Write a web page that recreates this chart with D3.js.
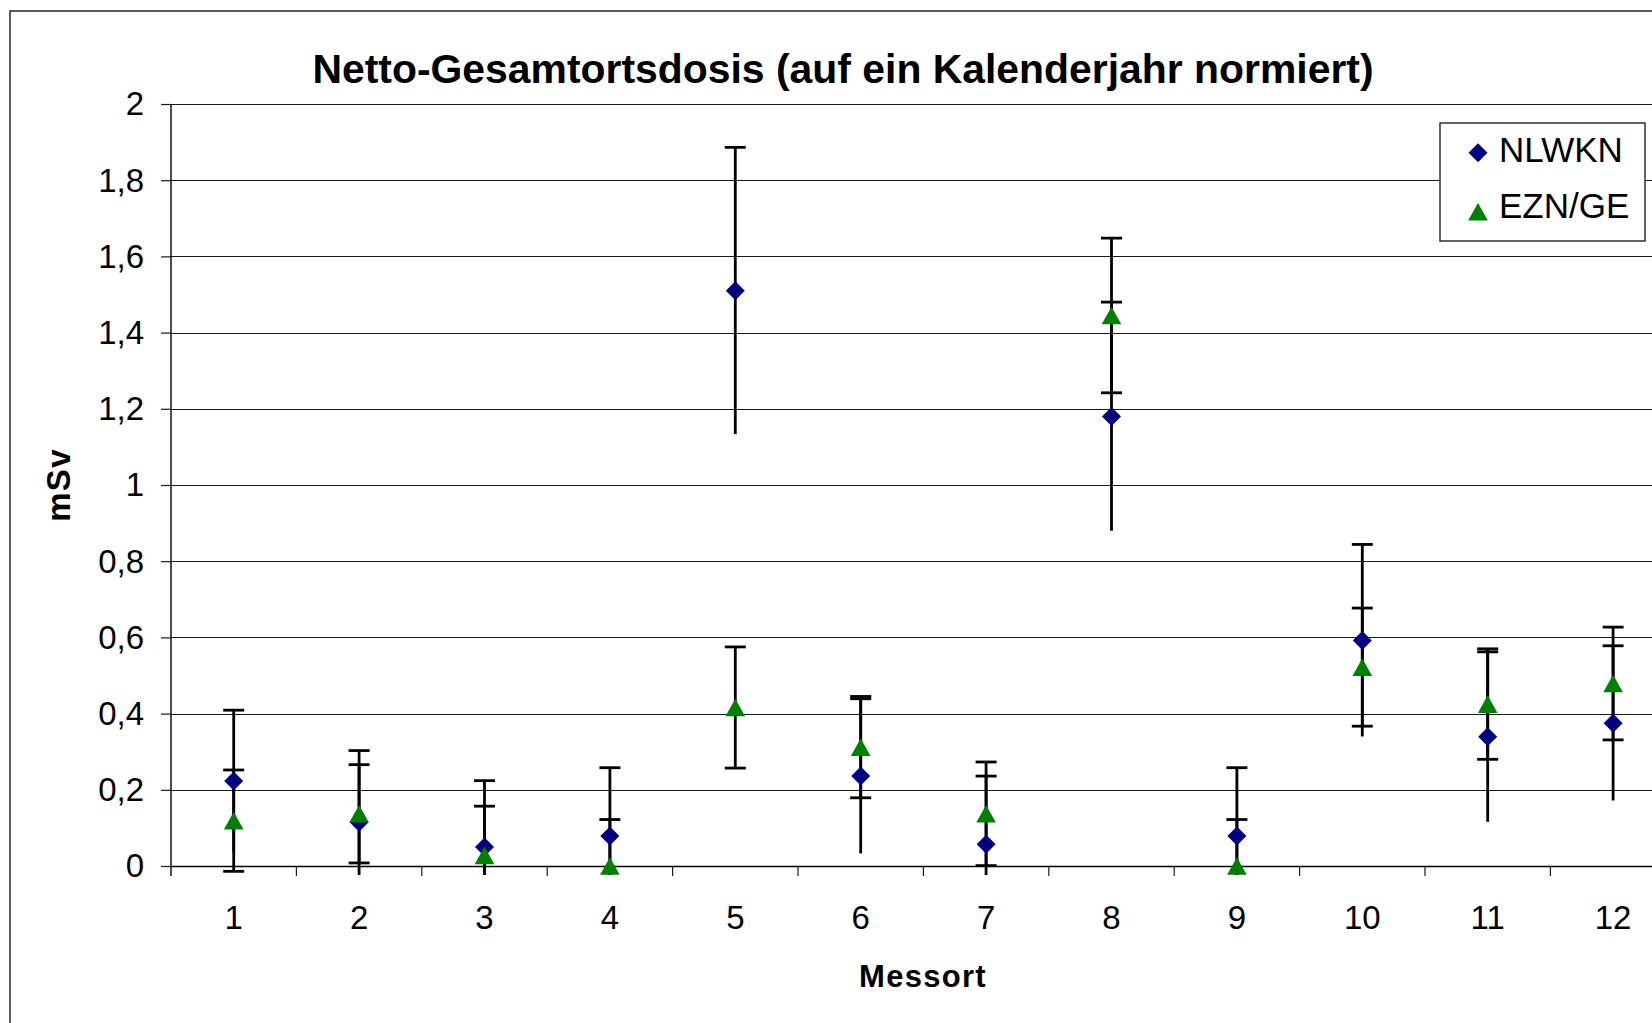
<!DOCTYPE html>
<html>
<head>
<meta charset="utf-8">
<script src="https://cdn.jsdelivr.net/npm/d3@7"></script>
<style>
  html, body { margin: 0; padding: 0; background: #fff; }
  svg { display: block; }
  text { font-family: "Liberation Sans", Arial, Helvetica, sans-serif; fill: #000; }
</style>
</head>
<body>
<script>
// ---- data ----
const categories = ["1", "2", "3", "4", "5", "6", "7", "8", "9", "10", "11", "12"];
const nlwknValues = [0.223, 0.115, 0.050, 0.079, 1.510, 0.236, 0.057, 1.180, 0.079, 0.592, 0.339, 0.375];
const nlwknErrors = [0.186, 0.188, 0.174, 0.179, 0.376, 0.203, 0.179, 0.300, 0.179, 0.252, 0.223, 0.203];
const eznValues   = [0.119, 0.137, 0.028, 0.000, 0.416, 0.312, 0.137, 1.445, 0.000, 0.522, 0.425, 0.479];
const eznErrors   = [0.133, 0.129, 0.129, 0.122, 0.159, 0.133, 0.136, 0.203, 0.122, 0.155, 0.145, 0.148];
const yTickValues = [0, 0.2, 0.4, 0.6, 0.8, 1.0, 1.2, 1.4, 1.6, 1.8, 2.0];
const seriesNames = ["NLWKN", "EZN/GE"];
const titleText = "Netto-Gesamtortsdosis (auf ein Kalenderjahr normiert)";
const xTitle = "Messort";
const yTitle = "mSv";

// ---- layout ----
const W = 1652, H = 1023;
const plotLeft = 171, plotTop = 104, plotBottom = 866;
const bandW = 125.4;
const plotRight = plotLeft + bandW * categories.length;

const svg = d3.select("body").append("svg").attr("width", W).attr("height", H);

// outer chart border (right/bottom edges fall outside the picture)
svg.append("rect").attr("x", 10).attr("y", 11).attr("width", 1800).attr("height", 1200)
  .attr("fill", "#fff").attr("stroke", "#333").attr("stroke-width", 1.6);

const x = d3.scaleBand().domain(categories).range([plotLeft, plotRight]).padding(0);
const y = d3.scaleLinear().domain([0, 2]).range([plotBottom, plotTop]);
const fmt = v => d3.format(".1f")(v).replace(".", ",").replace(/,0$/, "");

// gridlines
svg.append("g").selectAll("line").data(yTickValues.filter(v => v > 0)).join("line")
  .attr("x1", plotLeft).attr("x2", plotRight)
  .attr("y1", d => Math.round(y(d)) + 0.5).attr("y2", d => Math.round(y(d)) + 0.5)
  .attr("stroke", "#1a1a1a").attr("stroke-width", 1.2);

// y axis
const yAxis = d3.axisLeft(y).tickValues(yTickValues).tickSize(10).tickPadding(17).tickFormat(fmt);
const gy = svg.append("g").attr("transform", `translate(${plotLeft},0)`).call(yAxis);
gy.select(".domain").remove();
gy.selectAll(".tick line").attr("stroke", "#1a1a1a").attr("stroke-width", 1.2);
gy.selectAll(".tick text").attr("font-size", 33).attr("dy", "0.33em")
  .style("font-family", '"Liberation Sans", Arial, sans-serif').attr("fill", "#000");
svg.append("line").attr("x1", plotLeft).attr("x2", plotLeft)
  .attr("y1", plotTop).attr("y2", plotBottom + 10).attr("stroke", "#000").attr("stroke-width", 1.4);

// x axis
const xAxis = d3.axisBottom(x).tickSize(0).tickPadding(0);
const gx = svg.append("g").attr("transform", `translate(0,${plotBottom})`).call(xAxis);
gx.select(".domain").remove();
gx.selectAll(".tick text").attr("font-size", 33).attr("y", 63).attr("dy", 0)
  .style("font-family", '"Liberation Sans", Arial, sans-serif').attr("fill", "#000");
svg.append("line").attr("x1", plotLeft).attr("x2", plotRight)
  .attr("y1", plotBottom + 0.5).attr("y2", plotBottom + 0.5).attr("stroke", "#000").attr("stroke-width", 1.4);
// tick marks at category boundaries
svg.append("g").selectAll("line").data(categories.slice(1).concat(["__end"])).join("line")
  .attr("x1", (d, i) => x(categories[0]) + bandW * (i + 1))
  .attr("x2", (d, i) => x(categories[0]) + bandW * (i + 1))
  .attr("y1", plotBottom).attr("y2", plotBottom + 10)
  .attr("stroke", "#1a1a1a").attr("stroke-width", 1.2);

// clip for error bars
svg.append("clipPath").attr("id", "errClip").append("rect")
  .attr("x", plotLeft).attr("y", plotTop - 60).attr("width", plotRight - plotLeft)
  .attr("height", plotBottom + 9 - (plotTop - 60));

const cx = c => x(c) + x.bandwidth() / 2;
const capHalf = 10.5;
const errG = svg.append("g").attr("clip-path", "url(#errClip)")
  .attr("stroke", "#000").attr("stroke-width", 2.8).attr("fill", "none");

function drawErrors(values, errors, lowerCap) {
  const data = categories.map((c, i) => ({ c, v: values[i], e: errors[i] }));
  const g = errG.append("g");
  g.selectAll("line.v").data(data).join("line").attr("class", "v")
    .attr("x1", d => cx(d.c)).attr("x2", d => cx(d.c))
    .attr("y1", d => y(d.v + d.e)).attr("y2", d => y(d.v - d.e));
  g.selectAll("line.up").data(data).join("line").attr("class", "up")
    .attr("x1", d => cx(d.c) - capHalf).attr("x2", d => cx(d.c) + capHalf)
    .attr("y1", d => y(d.v + d.e)).attr("y2", d => y(d.v + d.e));
  if (lowerCap) {
    g.selectAll("line.lo").data(data).join("line").attr("class", "lo")
      .attr("x1", d => cx(d.c) - capHalf).attr("x2", d => cx(d.c) + capHalf)
      .attr("y1", d => y(d.v - d.e)).attr("y2", d => y(d.v - d.e));
  }
}
drawErrors(nlwknValues, nlwknErrors, false);
drawErrors(eznValues, eznErrors, true);

// marker shapes
const dR = 9.5;
const diamondPath = `M0,${-dR}L${dR},0L0,${dR}L${-dR},0Z`;
const tW = 9.8, tH = 8.8;
const trianglePath = `M0,${-tH}L${tW},${tH}L${-tW},${tH}Z`;
const navy = "#000080", green = "#008000";

svg.append("g").selectAll("path").data(categories.map((c, i) => ({ c, v: nlwknValues[i] }))).join("path")
  .attr("d", diamondPath).attr("fill", navy)
  .attr("transform", d => `translate(${cx(d.c)},${y(d.v)})`);
svg.append("g").selectAll("path").data(categories.map((c, i) => ({ c, v: eznValues[i] }))).join("path")
  .attr("d", trianglePath).attr("fill", green)
  .attr("transform", d => `translate(${cx(d.c)},${y(d.v)})`);

// title
svg.append("text").attr("x", 843).attr("y", 82.5).attr("text-anchor", "middle")
  .attr("font-size", 40.9).attr("font-weight", "bold").text(titleText);

// axis titles
svg.append("text").attr("x", 923).attr("y", 987).attr("text-anchor", "middle")
  .attr("font-size", 31).attr("font-weight", "bold").attr("letter-spacing", 1.3).text(xTitle);
svg.append("text").attr("transform", "translate(70,485) rotate(-90)").attr("text-anchor", "middle")
  .attr("font-size", 33).attr("font-weight", "bold").attr("letter-spacing", 1.3).text(yTitle);

// legend
const lg = svg.append("g");
lg.append("rect").attr("x", 1440).attr("y", 123).attr("width", 205).attr("height", 118)
  .attr("fill", "#fff").attr("stroke", "#222").attr("stroke-width", 1.4);
const legendItems = [
  { name: seriesNames[0], path: diamondPath, color: navy, yMark: 152.7, yText: 161.5 },
  { name: seriesNames[1], path: trianglePath, color: green, yMark: 211.7, yText: 218.3 }
];
legendItems.forEach(it => {
  lg.append("path").attr("d", it.path).attr("fill", it.color)
    .attr("transform", `translate(1478,${it.yMark})`);
  lg.append("text").attr("x", 1499).attr("y", it.yText).attr("font-size", 35).text(it.name);
});
</script>
</body>
</html>
